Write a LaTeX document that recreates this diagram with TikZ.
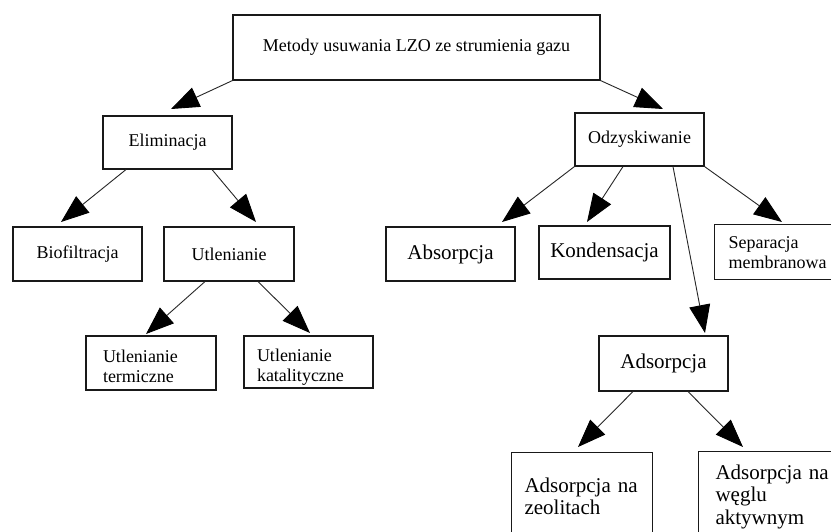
\documentclass[tikz,border=0pt]{standalone}
\usepackage{fontspec}
\setmainfont{Liberation Serif}
\usetikzlibrary{arrows.meta}
\tikzset{
  box/.style={draw=black!90, line width=1.1pt, inner sep=0pt, font=\fontsize{18}{20}\selectfont},
  bigbox/.style={box, font=\fontsize{21}{22.5}\selectfont},
  conn/.style={draw=black!85, line width=0.9pt, -{Triangle[length=28pt,width=21pt,color=black]}},
}
\begin{document}
\begin{tikzpicture}[x=1pt,y=-1pt]
\useasboundingbox (0,0) rectangle (831,531);
\clip (0,0) rectangle (831,531);
\fill[white] (0,0) rectangle (831,531);
% nodes
\node[box, minimum width=367pt, minimum height=65pt] (top) at (416.5,47.5) {Metody usuwania LZO ze strumienia gazu};
\node[box, minimum width=129pt, minimum height=53pt] (elim) at (167.5,142.5) {Eliminacja};
\node[box, minimum width=129pt, minimum height=53pt] (odz) at (639.5,139.5) {Odzyskiwanie};
\node[box, minimum width=129pt, minimum height=54pt] (bio) at (77.5,254) {Biofiltracja};
\node[box, minimum width=130pt, minimum height=54pt] (utl) at (229,254) {Utlenianie};
\node[bigbox, minimum width=129pt, minimum height=54pt] (abs) at (450.5,254) {Absorpcja};
\node[bigbox, minimum width=131pt, minimum height=53pt] (kond) at (604.5,252.5) {Kondensacja};
\node[box, anchor=north west, minimum width=140pt, minimum height=55pt, text width=112pt, inner xsep=14pt, align=left] (sep) at (714,224) {\rule{0pt}{18pt}Separacja\\membranowa\rule[-6pt]{0pt}{6pt}};
\node[box, minimum width=130pt, minimum height=54pt, text width=96pt, inner xsep=17pt, align=left] (term) at (151,363) {\rule{0pt}{24pt}Utlenianie\\termiczne\rule[-6pt]{0pt}{6pt}};
\node[box, minimum width=129pt, minimum height=52pt, text width=103pt, inner xsep=13pt, align=left] (kat) at (308.5,362) {\rule{0pt}{25pt}Utlenianie\\katalityczne\rule[-6pt]{0pt}{6pt}};
\node[bigbox, minimum width=129pt, minimum height=55pt] (ads) at (663.5,363.5) {Adsorpcja};
\node[bigbox, anchor=north west, minimum width=128pt, minimum height=88pt, text width=115pt, inner xsep=13pt, align=left] (zeo) at (511,452) {Adsorpcja na\\zeolitach};
\node[bigbox, anchor=north west, minimum width=150pt, minimum height=90pt, text width=116pt, inner xsep=17pt, align=left] (wegl) at (698,451) {Adsorpcja na\\węglu\\aktywnym};
% arrow tips
\coordinate (t1) at (171,109);
\coordinate (t2) at (663,109);
\coordinate (t3) at (61,222);
\coordinate (t4) at (256,222);
\coordinate (t5) at (502,222);
\coordinate (t6) at (587,222);
\coordinate (t7) at (705,333);
\coordinate (t8) at (782,222);
\coordinate (t9) at (146,334);
\coordinate (t10) at (310,333);
\coordinate (t11) at (578,447);
\coordinate (t12) at (743,447);
% connectors
\draw[conn] (top.south west) -- (t1);
\draw[conn] (top.south east) -- (t2);
\draw[conn] ([xshift=-41.5pt]elim.south) -- (t3);
\draw[conn] ([xshift=44.5pt]elim.south) -- (t4);
\draw[conn] (odz.south west) -- (t5);
\draw[conn] ([xshift=-16.5pt]odz.south) -- (t6);
\draw[conn] ([xshift=33.5pt]odz.south) -- (t7);
\draw[conn] (odz.south east) -- (t8);
\draw[conn] ([xshift=-24pt]utl.south) -- (t9);
\draw[conn] ([xshift=29pt]utl.south) -- (t10);
\draw[conn] ([xshift=-30.5pt]ads.south) -- (t11);
\draw[conn] ([xshift=24.5pt]ads.south) -- (t12);
\end{tikzpicture}
\end{document}
